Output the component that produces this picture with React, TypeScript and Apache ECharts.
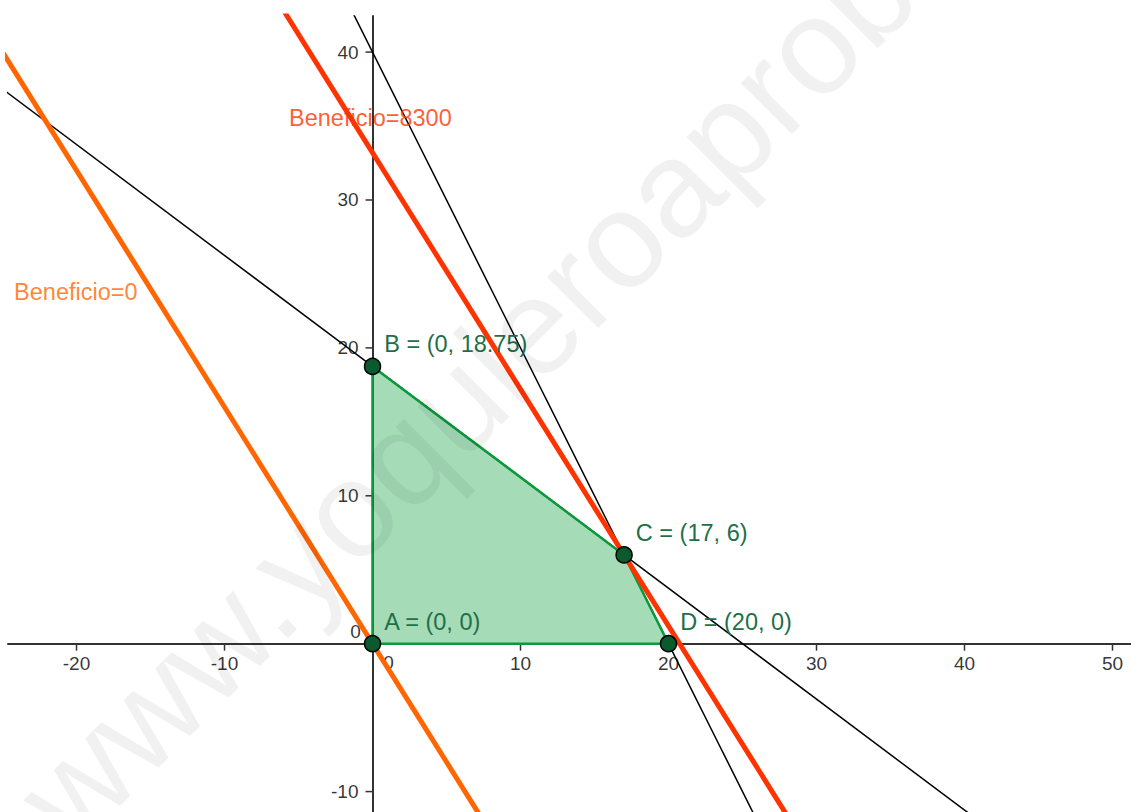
import React, { useEffect, useRef } from 'react';
import * as echarts from 'echarts';

// Axis extents and tick labels
const xRange = [-24.63, 51.25];
const yRange = [-11.38, 42.44];
const xTickValues = [-20, -10, 10, 20, 30, 40, 50];
const yTickValues = [-10, 10, 20, 30, 40];

// Feasible region vertices
const regionVertices = [
  [0, 0],
  [0, 18.75],
  [17, 6],
  [20, 0],
];

// Named points
const pointNames = ['A', 'B', 'C', 'D'];
const pointCoords = [
  [0, 0],
  [0, 18.75],
  [17, 6],
  [20, 0],
];
const pointLabels = ['A = (0, 0)', 'B = (0, 18.75)', 'C = (17, 6)', 'D = (20, 0)'];

// Line endpoints (extended beyond view, clipped by the grid)
const constraintA = [
  [-30, 41.25],
  [60, -26.25],
]; // 3x + 4y = 75
const constraintB = [
  [-5, 50],
  [30, -20],
]; // 2x + y = 40
const profitZero = [
  [-30, 48],
  [20, -32],
]; // Beneficio = 0
const profitMax = [
  [-10, 49.2],
  [30, -14.8],
]; // Beneficio = 8300

// Line label anchors (left edge, vertical centre)
const lineLabelTexts = ['Beneficio=0', 'Beneficio=8300'];
const lineLabelCoords = [
  [-24.22, 23.78],
  [-5.64, 35.54],
];
const lineLabelColors = ['#ff6600', '#ff3300'];

const FONT = '"Liberation Sans", Arial, Helvetica, sans-serif';
const AXIS_COLOR = '#333333';

export default function App() {
  const ref = useRef<HTMLDivElement>(null);

  useEffect(() => {
    if (!ref.current) return;
    const chart = echarts.init(ref.current, undefined, { renderer: 'svg' });

    const option: any = {
      animation: false,
      backgroundColor: '#ffffff',
      textStyle: { fontFamily: FONT },
      grid: {
        left: 8,
        top: 16,
        right: 0,
        bottom: 0,
        containLabel: false,
        outerBoundsMode: 'none',
      },
      xAxis: {
        type: 'value',
        min: xRange[0],
        max: xRange[1],
        axisLine: { show: true, onZero: true, lineStyle: { color: AXIS_COLOR, width: 2 } },
        axisTick: { show: false },
        axisLabel: { show: false },
        splitLine: { show: false },
      },
      yAxis: {
        type: 'value',
        min: yRange[0],
        max: yRange[1],
        axisLine: { show: true, onZero: true, lineStyle: { color: AXIS_COLOR, width: 2 } },
        axisTick: { show: false },
        axisLabel: { show: false },
        splitLine: { show: false },
      },
      graphic: [
        {
          type: 'text',
          silent: true,
          z: 100,
          x: 41,
          y: 818,
          rotation: (45 * Math.PI) / 180,
          style: {
            text: 'www.yoquieroaprobar.es',
            font: '137px ' + FONT,
            fill: 'rgba(0,0,0,0.055)',
            textAlign: 'left',
            textVerticalAlign: 'middle',
          },
        },
      ],
      series: [
        // tick marks on x axis (pointing down)
        {
          type: 'scatter',
          name: 'xticks',
          z: 1,
          silent: true,
          symbol: 'rect',
          symbolSize: [1.5, 7],
          symbolOffset: [0, 3.5],
          itemStyle: { color: AXIS_COLOR, opacity: 1 },
          data: xTickValues.map((v) => [v, 0]),
        },
        // tick marks on y axis (pointing left)
        {
          type: 'scatter',
          name: 'yticks',
          z: 1,
          silent: true,
          symbol: 'rect',
          symbolSize: [7, 1.5],
          symbolOffset: [-3.5, 0],
          itemStyle: { color: AXIS_COLOR, opacity: 1 },
          data: yTickValues.map((v) => [0, v]),
        },
        // x tick labels
        {
          type: 'scatter',
          name: 'xlabels',
          z: 1,
          silent: true,
          symbolSize: 0,
          data: xTickValues.map((v) => [v, 0]),
          label: {
            show: true,
            position: 'bottom',
            distance: 10,
            formatter: (p: any) => String(xTickValues[p.dataIndex]),
            fontSize: 19,
            color: '#000000',
            fontFamily: FONT,
          },
        },
        // y tick labels
        {
          type: 'scatter',
          name: 'ylabels',
          z: 1,
          silent: true,
          symbolSize: 0,
          data: yTickValues.map((v) => [0, v]),
          label: {
            show: true,
            position: 'left',
            distance: 14,
            formatter: (p: any) => String(yTickValues[p.dataIndex]),
            fontSize: 19,
            color: '#000000',
            fontFamily: FONT,
          },
        },
        // origin labels
        {
          type: 'scatter',
          name: 'origin',
          z: 1,
          symbolSize: 0,
          silent: true,
          data: [
            { value: [0, 0], label: { offset: [16, 19] } },
            { value: [0, 0], label: { offset: [-17, -12] } },
          ],
          label: {
            show: true,
            position: 'inside',
            formatter: '0',
            fontSize: 19,
            color: '#000000',
            fontFamily: FONT,
          },
        },
        {
          type: 'line',
          name: 'r1',
          z: 2,
          data: constraintA,
          showSymbol: false,
          symbol: 'none',
          lineStyle: { color: '#000000', width: 1.5 },
        },
        {
          type: 'line',
          name: 'r2',
          z: 2,
          data: constraintB,
          showSymbol: false,
          symbol: 'none',
          lineStyle: { color: '#000000', width: 1.5 },
        },
        {
          type: 'custom',
          name: 'region',
          z: 3,
          data: [0],
          renderItem: (params: any, api: any) => {
            const pts = regionVertices.map((v) => api.coord(v));
            return {
              type: 'polygon',
              shape: { points: pts },
              style: { fill: 'rgba(0,153,51,0.35)', stroke: '#0a9a3c', lineWidth: 2.5 },
            };
          },
        },
        {
          type: 'line',
          name: 'b0',
          z: 4,
          data: profitZero,
          showSymbol: false,
          symbol: 'none',
          lineStyle: { color: '#ff6600', width: 5 },
        },
        {
          type: 'line',
          name: 'b8300',
          z: 4,
          data: profitMax,
          showSymbol: false,
          symbol: 'none',
          lineStyle: { color: '#ff3300', width: 5 },
        },
        {
          type: 'scatter',
          name: 'points',
          z: 5,
          symbol: 'circle',
          symbolSize: 16,
          itemStyle: { color: '#0b5a2e', borderColor: '#000000', borderWidth: 1.5, opacity: 1 },
          data: pointCoords.map((c, i) => ({ name: pointNames[i], value: c })),
          label: {
            show: true,
            position: 'right',
            distance: 5,
            offset: [-2, -22],
            formatter: (p: any) => pointLabels[p.dataIndex],
            fontSize: 23.5,
            color: '#1e7048',
            fontFamily: FONT,
          },
        },
        {
          type: 'scatter',
          name: 'lineLabels',
          z: 4,
          symbolSize: 0,
          silent: true,
          data: lineLabelCoords.map((c, i) => ({
            value: c,
            label: { color: lineLabelColors[i] },
          })),
          label: {
            show: true,
            position: 'right',
            distance: 0,
            formatter: (p: any) => lineLabelTexts[p.dataIndex],
            fontSize: 23.5,
            fontFamily: FONT,
          },
        },
      ],
    };

    chart.setOption(option);
    return () => {
      chart.dispose();
    };
  }, []);

  return (
    <div
      ref={ref}
      style={{ position: 'fixed', left: 0, top: 0, width: 1131, height: 812, background: '#fff' }}
    />
  );
}
